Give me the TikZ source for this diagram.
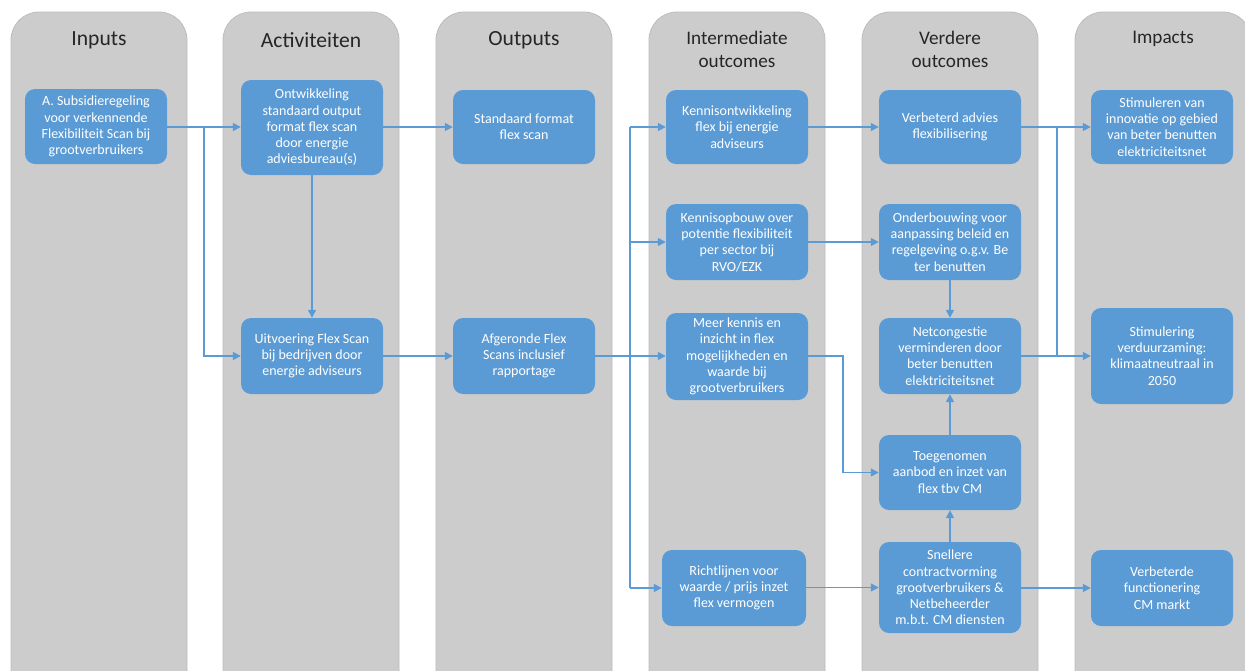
\documentclass[tikz,border=0pt]{standalone}
\usepackage{fontspec}
\setmainfont{Carlito}
\usetikzlibrary{arrows.meta}
\definecolor{colgray}{HTML}{CCCCCC}
\definecolor{colline}{HTML}{BDBDBD}
\definecolor{boxblue}{HTML}{5B9BD5}
\definecolor{headtxt}{HTML}{262626}
\tikzset{
  column/.style={draw=colline, fill=colgray, rounded corners=28pt, line width=0.8pt},
  head/.style={text=headtxt, font=\fontsize{21.6}{23}\selectfont, align=center},
  headtwo/.style={text=headtxt, font=\fontsize{19.2}{23}\selectfont, align=center},
  box/.style={fill=boxblue, rounded corners=10pt, text=white, align=center, inner sep=0pt,
    font=\fontsize{14}{16.3}\selectfont, minimum width=142pt},
  link/.style={draw=boxblue, line width=1.5pt},
  conn/.style={link, -{Triangle[length=8pt,width=8pt]}}
}
\begin{document}
\begin{tikzpicture}[x=1pt,y=-1pt]
\clip (0,0) rectangle (1245,670);
\fill[white] (0,0) rectangle (1245,670);
% columns
\foreach \cx/\nm in {99/cin,311/cact,524/cout,737/cint,950/cver,1163/cimp}{
  \draw[column] (\cx-88,12) rectangle (\cx+88,720);
}
\node[head] (hin) at (99,40) {Inputs};
\node[head] (hact) at (311,40) {Activiteiten};
\node[head] (hout) at (524,40) {Outputs};
\node[headtwo] (hint) at (737,49) {Intermediate\\outcomes};
\node[headtwo] (hver) at (950,49) {Verdere\\outcomes};
\node[headtwo] (himp) at (1163,39) {Impacts};
% boxes
\node[box, minimum height=75pt] (A) at (96,126.5) {A. Subsidieregeling\\voor verkennende\\Flexibiliteit Scan bij\\grootverbruikers};
\node[box, minimum height=95pt] (ontw) at (312,127.5) {Ontwikkeling\\standaard output\\format flex scan\\door energie\\adviesbureau(s)};
\node[box, minimum height=76pt] (uitv) at (312,356) {Uitvoering Flex Scan\\bij bedrijven door\\energie adviseurs};
\node[box, minimum height=74pt] (std) at (524,127) {Standaard format\\flex scan};
\node[box, minimum height=76pt] (afg) at (524,356) {Afgeronde Flex\\Scans inclusief\\rapportage};
\node[box, minimum height=74pt] (kon) at (737,127) {Kennisontwikkeling\\flex bij energie\\adviseurs};
\node[box, minimum height=76pt] (kop) at (737,242) {Kennisopbouw over\\potentie flexibiliteit\\per sector bij\\RVO/EZK};
\node[box, minimum height=87pt] (meer) at (737,356.5) {Meer kennis en\\inzicht in flex\\mogelijkheden en\\waarde bij\\grootverbruikers};
\node[box, minimum height=76pt, minimum width=144pt] (richt) at (734,588) {Richtlijnen voor\\waarde / prijs inzet\\flex vermogen};
\node[box, minimum height=74pt] (verb) at (950,127) {Verbeterd advies\\flexibilisering};
\node[box, minimum height=76pt] (onder) at (950,242) {Onderbouwing voor\\aanpassing beleid en\\regelgeving o.g.v. Be\\ter benutten};
\node[box, minimum height=76pt] (net) at (950,356) {Netcongestie\\verminderen door\\beter benutten\\elektriciteitsnet};
\node[box, minimum height=75pt] (toe) at (950,472.5) {Toegenomen\\aanbod en inzet van\\flex tbv CM};
\node[box, minimum height=91pt] (snel) at (950,587.5) {Snellere\\contractvorming\\grootverbruikers \&\\Netbeheerder\\m.b.t. CM diensten};
\node[box, minimum height=74pt] (stima) at (1162,127) {Stimuleren van\\innovatie op gebied\\van beter benutten\\elektriciteitsnet};
\node[box, minimum height=96pt] (stimb) at (1162,356) {Stimulering\\verduurzaming:\\klimaatneutraal in\\2050};
\node[box, minimum height=76pt] (verbe) at (1162,588) {Verbeterde\\functionering\\CM markt};
% junction coordinates
\coordinate (j1) at (204,127);
\coordinate (j2) at (630,356);
\coordinate (j3) at (843,356);
\coordinate (j4) at (1057,127);
% connectors
\draw[conn] (A.east |- j1) -- (j1 -| ontw.west);
\draw[conn] (j1) |- (uitv.west);
\draw[conn] (ontw.south) -- (uitv.north);
\draw[conn] (ontw.east |- std) -- (std.west);
\draw[conn] (uitv.east) -- (afg.west);
\draw[conn] (afg.east) -- (afg.east -| meer.west);
\draw[link] (j2 |- kon) -- (j2 |- richt);
\draw[conn] (j2 |- kon) -- (kon.west);
\draw[conn] (j2 |- kop) -- (kop.west);
\draw[conn] (j2 |- richt) -- (richt.west);
\draw[conn] (kon.east) -- (verb.west);
\draw[conn] (kop.east) -- (onder.west);
\draw[conn] (meer.east |- j3) -- (j3) |- (toe.west);
\draw[conn] (richt.east |- snel) -- (snel.west);
\draw[conn] (onder.south) -- (net.north);
\draw[conn] (snel.north) -- (toe.south);
\draw[conn] (toe.north) -- (net.south);
\draw[conn] (verb.east) -- (stima.west);
\draw[conn] (net.east) -- (stimb.west);
\draw[link] (j4) -- (j4 |- net);
\draw[conn] (snel.east |- verbe) -- (verbe.west);
\end{tikzpicture}
\end{document}
